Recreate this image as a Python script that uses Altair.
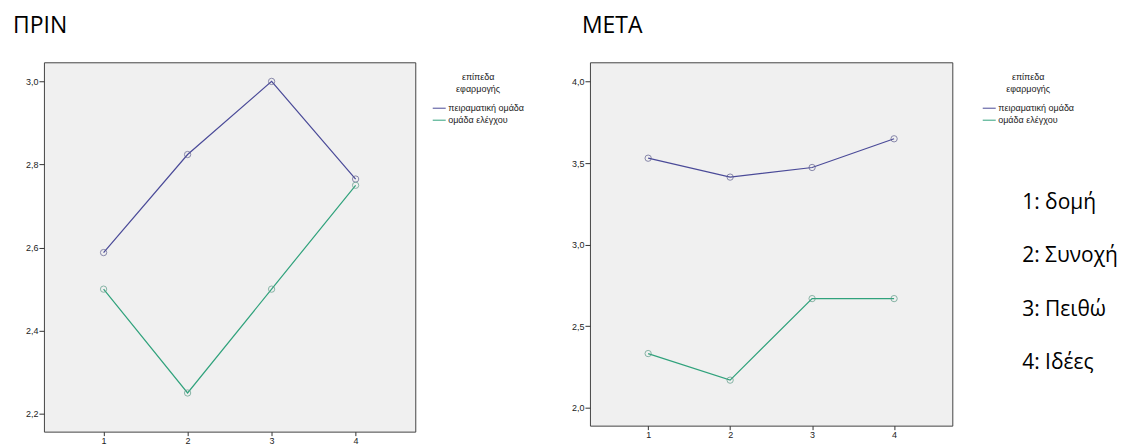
import altair as alt
import pandas as pd

x_levels = [1, 2, 3, 4]
groups = ["πειραματική ομάδα", "ομάδα ελέγχου"]
pre_exp = [2.588, 2.824, 3.000, 2.765]
pre_ctl = [2.500, 2.250, 2.500, 2.750]
post_exp = [3.530, 3.414, 3.473, 3.649]
post_ctl = [2.332, 2.169, 2.669, 2.669]
left_ticks = [2.2, 2.4, 2.6, 2.8, 3.0]
right_ticks = [2.0, 2.5, 3.0, 3.5, 4.0]
note_idx = [1, 2, 3, 4]
note_labels = ["1: δομή", "2: Συνοχή", "3: Πειθώ", "4: Ιδέες"]
line_colors = ["#4a4a98", "#30a27c"]
point_colors = ["#5a5a8c", "#5a9a86"]


def long_df(exp, ctl):
    rows = []
    for g, vals in zip(groups, [exp, ctl]):
        for lv, v in zip(x_levels, vals):
            rows.append({"level": lv, "value": v, "group": g})
    return pd.DataFrame(rows)


def panel(df, ydom, yticks, title, title_dx, w, h, legend_offset):
    base = alt.Chart(df)
    x = alt.X("level:Q",
              scale=alt.Scale(domain=[0.29, 4.71], nice=False, zero=False),
              axis=alt.Axis(values=x_levels, format="d", title=None, grid=False,
                            domain=False, tickSize=4, tickColor="#333",
                            labelFont="Liberation Sans", labelFontSize=9,
                            labelColor="#222", labelPadding=1))
    y = alt.Y("value:Q",
              scale=alt.Scale(domain=ydom, nice=False, zero=False),
              axis=alt.Axis(values=yticks, title=None, grid=False, domain=False,
                            labelExpr="replace(format(datum.value, '.1f'), '.', ',')",
                            tickSize=5, tickColor="#333",
                            labelFont="Liberation Sans", labelFontSize=9,
                            labelColor="#222", labelPadding=1))
    line = base.mark_line(strokeWidth=1.2).encode(
        x=x, y=y,
        color=alt.Color("group:N", sort=groups,
                        scale=alt.Scale(domain=groups, range=line_colors),
                        legend=alt.Legend(
                            title=["επίπεδα", "εφαρμογής"], orient="right",
                            offset=legend_offset, padding=11,
                            symbolType="stroke", symbolSize=169,
                            symbolStrokeWidth=1,
                            labelFont="Liberation Sans", labelFontSize=9,
                            labelColor="#222", labelOffset=2,
                            titleFont="Liberation Sans", titleFontSize=9,
                            titleFontWeight="normal", titleColor="#222",
                            titleAnchor="middle", titleAlign="center",
                            titleLineHeight=12, titlePadding=7, rowPadding=0)),
    )
    pts = base.mark_point(shape="circle", filled=False, size=40, strokeWidth=1).encode(
        x=x, y=y,
        stroke=alt.Stroke("group:N", sort=groups,
                          scale=alt.Scale(domain=groups, range=point_colors),
                          legend=None),
    )
    return alt.layer(line, pts), dict(
        width=w, height=h,
        title=alt.TitleParams(title, anchor="start", frame="group", dx=title_dx,
                              offset=24, font="Open Sans", fontSize=23,
                              fontWeight="normal", color="black"),
    )


left_layer, left_props = panel(long_df(pre_exp, pre_ctl), [2.157, 3.046], left_ticks,
                               "ΠΡΙΝ", -31, 372, 370, 6)
left = left_layer.properties(
    view=alt.ViewBackground(fill="#f0f0f0", stroke="#444", strokeWidth=1),
    **left_props)

right_layer, right_props = panel(long_df(post_exp, post_ctl), [1.89, 4.118], right_ticks,
                                 "ΜΕΤΑ", -8, 363, 364, 19)

notes_df = pd.DataFrame({"idx": note_idx, "label": note_labels})
notes = alt.Chart(notes_df).mark_text(
    font="Open Sans", fontSize=21, align="left", baseline="middle", color="black"
).encode(
    x=alt.value(433),
    y=alt.Y("idx:Q", scale=alt.Scale(domain=[-1.644, 5.181], reverse=True,
                                      nice=False, zero=False), axis=None),
    text="label:N",
)

right = alt.layer(right_layer, notes).resolve_scale(y="independent").properties(
    view=alt.ViewBackground(fill="#f0f0f0", stroke="#444", strokeWidth=1),
    **right_props)

chart = alt.hconcat(left, right, spacing=33).resolve_scale(
    x="independent", y="independent", color="independent", stroke="independent"
).resolve_legend(color="independent", stroke="independent").properties(
    padding={"left": 4, "top": 6, "right": 0, "bottom": 0}
).configure(background="white")

chart.save("out.html", embed_options={"renderer": "svg", "actions": False})
